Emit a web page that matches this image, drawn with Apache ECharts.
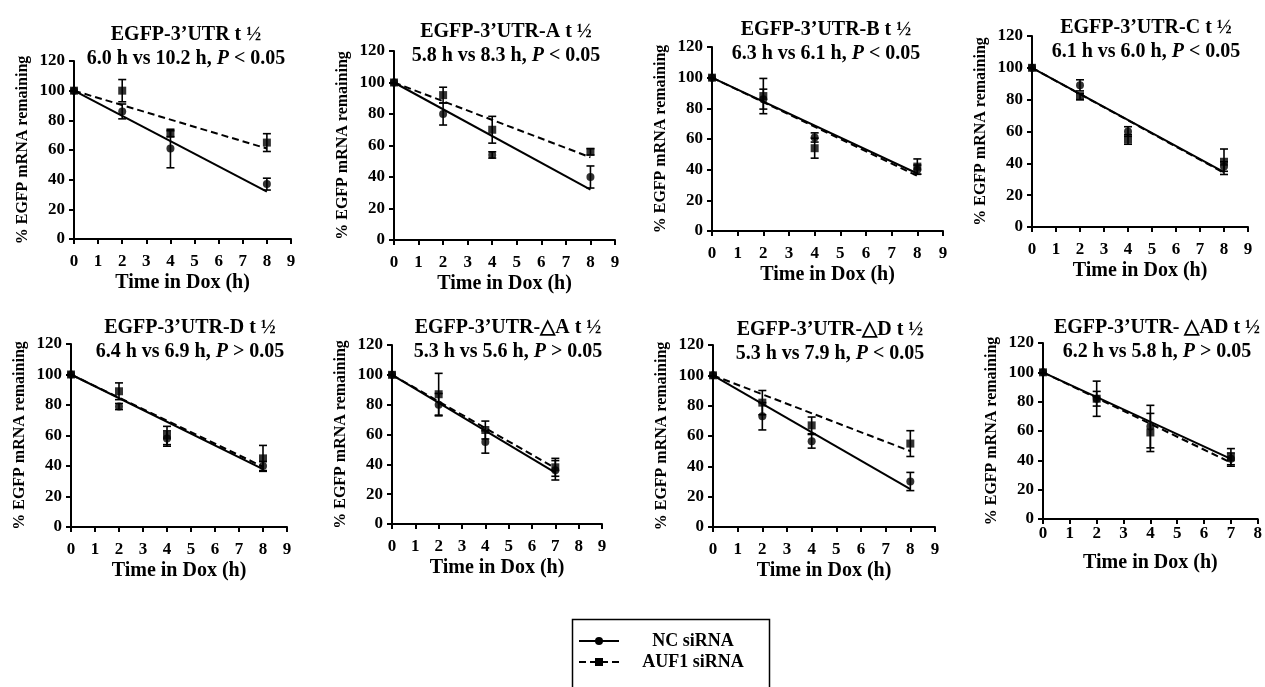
<!DOCTYPE html>
<html><head><meta charset="utf-8">
<script src="https://cdn.jsdelivr.net/npm/echarts@6/dist/echarts.min.js"></script>
<style>html,body{margin:0;padding:0;background:#fff}#c{width:1265px;height:687px}</style>
</head><body><div id="c"></div>
<script>
// ---------- data ----------
const panelTitles = ['EGFP-3’UTR t ½','EGFP-3’UTR-A t ½','EGFP-3’UTR-B t ½','EGFP-3’UTR-C t ½',
  'EGFP-3’UTR-D t ½','EGFP-3’UTR-△A t ½','EGFP-3’UTR-△D t ½','EGFP-3’UTR- △AD t ½'];
const halfLifeText = ['6.0 h vs 10.2 h','5.8 h vs 8.3 h','6.3 h vs 6.1 h','6.1 h vs 6.0 h',
  '6.4 h vs 6.9 h','5.3 h vs 5.6 h','5.3 h vs 7.9 h','6.2 h vs 5.8 h'];
const pText = ['< 0.05','< 0.05','< 0.05','< 0.05','> 0.05','> 0.05','< 0.05','> 0.05'];
const timePoints = [[0,2,4,8],[0,2,4,8],[0,2,4,8],[0,2,4,8],[0,2,4,8],[0,2,4,7],[0,2,4,8],[0,2,4,7]];
const xAxisMax = [9,9,9,9,9,9,9,8];
const ncMean = [[100,86,61,37],[100,80,54,40],[100,86,61,40],[100,89,60,38],
  [100,79,58,40],[100,80,55,36],[100,73,56.5,30],[100,82,63,41]];
const ncErr = [[0,5,13,4],[0,7,2,7],[0,6.5,3,3],[0,3.5,3,3],
  [0,2,5,3],[0,7.5,7.5,6.5],[0,9,4.5,6],[0,5,14.5,4]];
const aufMean = [[100,100,71,65],[100,92,70,56],[100,88,54,42],[100,82,55,41],
  [100,89,60,45],[100,87,63,38],[100,82,67,55],[100,82,59,42]];
const aufErr = [[0,7.5,2,6],[0,5,8.5,2],[0,11.5,6.5,5],[0,2,3,8],
  [0,5.5,6,8.5],[0,14,6,6],[0,8,5.5,8.5],[0,12,13,6]];
const ncFitStart = [100,100,100,100,100,100,100,100];
const ncFitEnd = [32,32,37.5,34.5,38,34.5,25,41];
const aufFitStart = [100,100,100,100,100,100,100,100];
const aufFitEnd = [61,52.5,36,34,39.5,37.5,50,38.5];
const seriesNames = ['NC siRNA','AUF1 siRNA'];

// ---------- layout ----------
const grids = [
  {left:74, top:61, width:217, height:178},
  {left:394, top:51, width:221, height:189},
  {left:712, top:47, width:231, height:184},
  {left:1032, top:36, width:216, height:191},
  {left:71, top:344, width:216, height:183},
  {left:392, top:345, width:210, height:179},
  {left:713, top:345, width:222, height:182},
  {left:1043, top:343, width:215, height:176}
];
const titlePos = [[186,23],[506,20],[826,18],[1146,16],[190,316],[508,316],[830,318],[1157,316]];
const xLabelMargin = [14,14,14,14,14,14,14,6];

const FONT = '"Liberation Serif","Times New Roman",serif';
const rich = {
  a:{fontFamily:FONT,fontWeight:'bold',fontSize:20,color:'#000',lineHeight:24},
  i:{fontFamily:FONT,fontWeight:'bold',fontStyle:'italic',fontSize:20,color:'#000',lineHeight:24}
};

function errRender(params, api){
  const x = api.value(0), y = api.value(1), e = api.value(2);
  if (!e) return null;
  const t = api.coord([x, y + e]), b = api.coord([x, y - e]);
  const cw = 4, st = {stroke:'#000', lineWidth:1.6};
  return {type:'group', children:[
    {type:'line', shape:{x1:t[0],y1:t[1],x2:b[0],y2:b[1]}, style:st},
    {type:'line', shape:{x1:t[0]-cw,y1:t[1],x2:t[0]+cw,y2:t[1]}, style:st},
    {type:'line', shape:{x1:b[0]-cw,y1:b[1],x2:b[0]+cw,y2:b[1]}, style:st}
  ]};
}

const title = [], xAxis = [], yAxis = [], grid = [], series = [];
const axisLine = {show:true, onZero:false, lineStyle:{color:'#000', width:2}};
const axisTick = {show:true, length:5, lineStyle:{color:'#000', width:2}};
for (let k = 0; k < 8; k++){
  grid.push(Object.assign({containLabel:false}, grids[k]));
  title.push({
    left:titlePos[k][0], top:titlePos[k][1], textAlign:'center', padding:0,
    text:'{a|' + panelTitles[k] + '}\n{a|' + halfLifeText[k] + ', }{i|P}{a| ' + pText[k] + '}',
    textStyle:{rich:rich}
  });
  xAxis.push({
    gridIndex:k, type:'value', min:0, max:xAxisMax[k], interval:1,
    name:'Time in Dox (h)', nameLocation:'middle', nameGap:34,
    nameTextStyle:{fontFamily:FONT, fontWeight:'bold', fontSize:20, color:'#000'},
    axisLine:axisLine, axisTick:axisTick, splitLine:{show:false},
    axisLabel:{margin:xLabelMargin[k], fontFamily:FONT, fontWeight:'bold', fontSize:17, color:'#000'}
  });
  yAxis.push({
    gridIndex:k, type:'value', min:0, max:120, interval:20,
    name:'% EGFP mRNA remaining', nameLocation:'middle', nameGap:43,
    nameTextStyle:{fontFamily:FONT, fontWeight:'bold', fontSize:16, color:'#000'},
    axisLine:axisLine, axisTick:axisTick, splitLine:{show:false},
    axisLabel:{margin:9, fontFamily:FONT, fontWeight:'bold', fontSize:17, color:'#000'}
  });
  const tp = timePoints[k], last = tp[tp.length-1];
  series.push({
    name:seriesNames[0], type:'line', xAxisIndex:k, yAxisIndex:k,
    symbol:'circle', showSymbol:false, symbolSize:8, silent:true, z:3,
    lineStyle:{color:'#000', width:2, type:'solid'}, itemStyle:{color:'#000'},
    data:[[0, ncFitStart[k]], [last, ncFitEnd[k]]]
  });
  series.push({
    name:seriesNames[1], type:'line', xAxisIndex:k, yAxisIndex:k,
    symbol:'rect', showSymbol:false, symbolSize:8, silent:true, z:3,
    lineStyle:{color:'#000', width:2, type:[7,4]}, itemStyle:{color:'#000'},
    data:[[0, aufFitStart[k]], [last, aufFitEnd[k]]]
  });
  series.push({
    name:seriesNames[0], type:'custom', xAxisIndex:k, yAxisIndex:k, renderItem:errRender,
    encode:{x:0, y:1}, z:4, silent:true,
    data:tp.map((t,i)=>[t, ncMean[k][i], ncErr[k][i]])
  });
  series.push({
    name:seriesNames[1], type:'custom', xAxisIndex:k, yAxisIndex:k, renderItem:errRender,
    encode:{x:0, y:1}, z:4, silent:true,
    data:tp.map((t,i)=>[t, aufMean[k][i], aufErr[k][i]])
  });
  series.push({
    name:seriesNames[0], type:'scatter', xAxisIndex:k, yAxisIndex:k, symbol:'circle', symbolSize:8,
    itemStyle:{color:'#000'}, z:5, data:tp.map((t,i)=>[t, ncMean[k][i]])
  });
  series.push({
    name:seriesNames[1], type:'scatter', xAxisIndex:k, yAxisIndex:k, symbol:'rect', symbolSize:8,
    itemStyle:{color:'#000'}, z:5, data:tp.map((t,i)=>[t, aufMean[k][i]])
  });
}

const legendText = {rich:{t:{width:138, align:'center', fontFamily:FONT, fontWeight:'bold', fontSize:18, color:'#000', lineHeight:20}}};
function legendFor(name, top){
  return {
    data:[name], left:578, top:top, padding:0, itemWidth:40, itemHeight:10,
    selectedMode:false, formatter:function(n){ return '{t|' + n + '}'; }, textStyle:legendText
  };
}

const chart = echarts.init(document.getElementById('c'), null, {renderer:'canvas'});
chart.setOption({
  backgroundColor:'#fff', animation:false,
  title:title, grid:grid, xAxis:xAxis, yAxis:yAxis, series:series,
  legend:[legendFor(seriesNames[0], 632), legendFor(seriesNames[1], 653)],
  graphic:[{type:'rect', left:570, top:617, shape:{width:197, height:80},
    style:{fill:null, stroke:'#000', lineWidth:1.5}, silent:true}]
});
</script></body></html>
